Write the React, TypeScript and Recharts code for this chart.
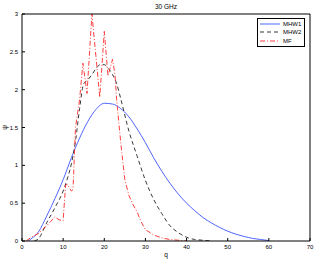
import { LineChart, Line, XAxis, YAxis, Legend } from 'recharts'

// q-valores e psi de cada curva
const mhw1Q = [1.5, 2, 4, 6, 8, 10, 12, 14, 16, 18, 20, 22, 24, 26, 28, 30, 32, 34, 36, 38, 40, 42, 44, 46, 48, 50, 52, 54, 56, 58, 60]
const mhw1Psi = [0, 0.02, 0.12, 0.33, 0.56, 0.81, 1.1, 1.36, 1.58, 1.74, 1.82, 1.81, 1.75, 1.64, 1.48, 1.3, 1.1, 0.92, 0.76, 0.62, 0.5, 0.4, 0.31, 0.24, 0.18, 0.13, 0.09, 0.06, 0.035, 0.02, 0.005]

const mhw2Q = [3, 4, 6, 8, 10, 11, 12, 13, 14, 15, 16, 17, 18, 19, 20, 21, 22, 23, 24, 26, 28, 30, 32, 34, 36, 38, 40, 42, 44, 46]
const mhw2Psi = [0, 0.03, 0.24, 0.44, 0.66, 0.82, 1.02, 1.32, 1.75, 2.08, 2.13, 2.2, 2.28, 2.33, 2.33, 2.28, 2.2, 2.08, 1.88, 1.45, 1.12, 0.8, 0.55, 0.36, 0.2, 0.11, 0.05, 0.02, 0.01, 0]

const mfQ = [1, 2, 3, 4, 5, 6, 7, 8, 9, 10, 10.6, 11, 12, 12.4, 13, 14, 14.8, 15.8, 17, 18.9, 20, 20.9, 22, 22.6, 23, 24, 25, 26, 27, 28, 29, 30, 32, 34, 36, 38, 40]
const mfPsi = [0, 0.04, 0.07, 0.1, 0.15, 0.2, 0.26, 0.32, 0.28, 0.27, 0.74, 0.75, 0.66, 0.68, 1.5, 1.87, 2.35, 1.95, 3.0, 1.9, 2.77, 2.18, 2.4, 2.2, 1.87, 1.3, 0.81, 0.6, 0.48, 0.38, 0.25, 0.15, 0.08, 0.04, 0.02, 0.01, 0]

const xTicks = [0, 10, 20, 30, 40, 50, 60, 70]
const yTicks = [0, 0.5, 1, 1.5, 2, 2.5, 3]

const seriesNames = ['MHW1', 'MHW2', 'MF']

const toPoints = (qs: number[], ps: number[]) => qs.map((q, i) => ({ q, psi: ps[i] }))

const series = [
  { name: seriesNames[0], data: toPoints(mhw1Q, mhw1Psi), color: '#3b55ff', dash: undefined as string | undefined, curve: 'monotone' as const },
  { name: seriesNames[1], data: toPoints(mhw2Q, mhw2Psi), color: '#222222', dash: '4 3', curve: 'monotone' as const },
  { name: seriesNames[2], data: toPoints(mfQ, mfPsi), color: '#ff2a2a', dash: '5 2 1 2', curve: 'linear' as const },
]

const tickStyle = { fontSize: 6, fill: '#000' }

function LegendBox() {
  return (
    <div style={{ border: '1px solid #000', background: '#fff', padding: '1px 2px', width: 42 }}>
      {series.map(s => (
        <div key={s.name} style={{ display: 'flex', alignItems: 'center', height: 8.3, fontSize: 6 }}>
          <svg width={20} height={4} style={{ marginRight: 3 }}>
            <line x1={0} y1={2} x2={20} y2={2} stroke={s.color} strokeWidth={0.9} strokeDasharray={s.dash} />
          </svg>
          <span>{s.name}</span>
        </div>
      ))}
    </div>
  )
}

export default function App() {
  return (
    <div style={{ position: 'absolute', left: 0, top: 0, width: 316, height: 260, background: '#fff', fontFamily: '"Liberation Sans", Arial, sans-serif' }}>
      <LineChart width={316} height={260} margin={{ top: 0, right: 0, bottom: 0, left: 0 }}>
        <XAxis
          dataKey="q"
          type="number"
          domain={[0, 70]}
          ticks={xTicks}
          height={19}
          tickSize={-3}
          tickMargin={6.5}
          tick={tickStyle}
          axisLine={{ stroke: '#000' }}
          tickLine={{ stroke: '#000' }}
          allowDataOverflow
          label={{ value: 'q', position: 'insideBottom', offset: 3, fontSize: 6.5, fill: '#000' }}
        />
        <XAxis
          xAxisId="top"
          orientation="top"
          dataKey="q"
          type="number"
          domain={[0, 70]}
          ticks={xTicks}
          height={14}
          tickSize={-3}
          tickFormatter={() => ''}
          axisLine={{ stroke: '#000' }}
          tickLine={{ stroke: '#000' }}
          label={{ value: '30 GHz', position: 'center', fontSize: 6.5, fill: '#000' }}
        />
        <YAxis
          type="number"
          domain={[0, 3]}
          ticks={yTicks}
          width={22}
          tickSize={-3}
          tickMargin={7}
          tick={tickStyle}
          axisLine={{ stroke: '#000' }}
          tickLine={{ stroke: '#000' }}
          allowDataOverflow
          label={{ value: 'ψ', angle: -90, position: 'center', dx: -6, fontSize: 6.5, fill: '#000' }}
        />
        <YAxis
          yAxisId="right"
          orientation="right"
          type="number"
          domain={[0, 3]}
          ticks={yTicks}
          width={6}
          tickSize={-3}
          tickFormatter={() => ''}
          axisLine={{ stroke: '#000' }}
          tickLine={{ stroke: '#000' }}
        />
        {series.map(s => (
          <Line
            key={s.name}
            data={s.data}
            dataKey="psi"
            name={s.name}
            type={s.curve}
            stroke={s.color}
            strokeWidth={0.9}
            strokeDasharray={s.dash}
            dot={false}
            activeDot={false}
            isAnimationActive={false}
          />
        ))}
        <Legend
          layout="vertical"
          align="center"
          verticalAlign="middle"
          wrapperStyle={{ top: 18, left: 257, width: 48 }}
          content={() => <LegendBox />}
        />
      </LineChart>
    </div>
  )
}
